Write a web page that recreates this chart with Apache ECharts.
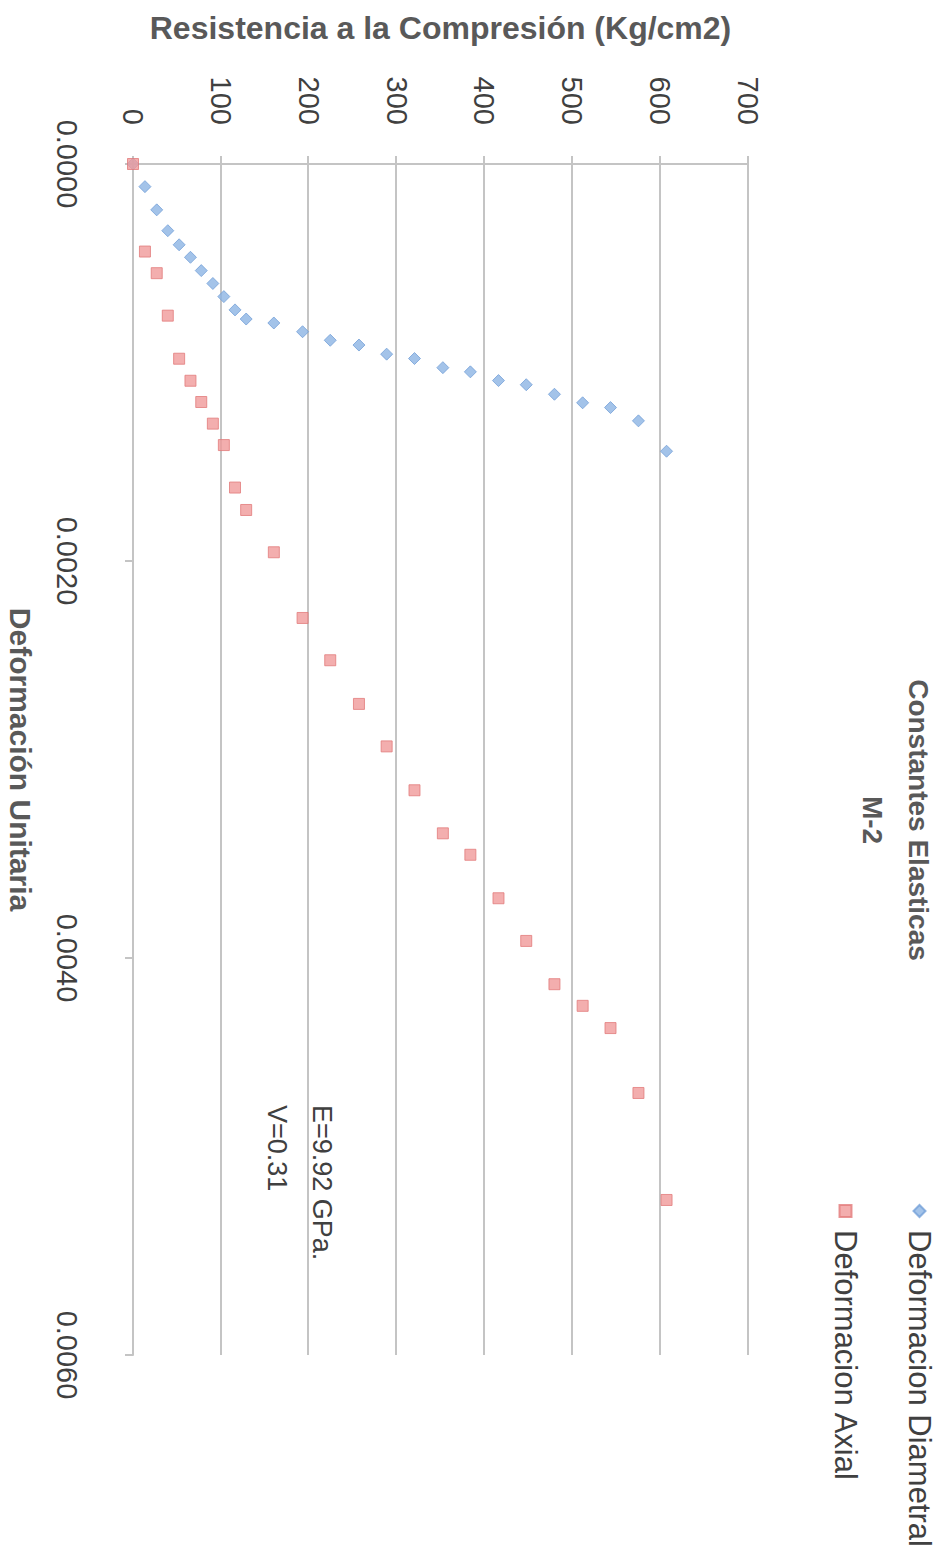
<!DOCTYPE html>
<html>
<head>
<meta charset="utf-8">
<script src="https://cdn.jsdelivr.net/npm/echarts@6/dist/echarts.min.js"></script>
<style>
  html, body { margin: 0; padding: 0; background: #fff; }
  #page { position: absolute; left: 0; top: 0; width: 946px; height: 1558px; overflow: hidden; background: #fff; }
  /* the original sheet was scanned on its side: draw the chart upright, then turn it a quarter clockwise */
  #chart { position: absolute; left: 0; top: 0; width: 1558px; height: 946px;
           transform-origin: 0 0; transform: translate(946px, 0) rotate(90deg); }
</style>
</head>
<body>
<div id="page"><div id="chart"></div></div>
<script>
// esfuerzo aplicado (Kg/cm2), igual para las dos lecturas
const resistencia = [0, 13.6, 27.0, 39.6, 52.5, 65.4, 77.7, 90.9, 103.4, 116.1, 128.8,
  160.3, 193.0, 224.5, 257.2, 288.7, 320.4, 352.7, 384.0, 416.0, 447.6, 479.7,
  511.8, 543.5, 575.3, 607.3];

const defDiametral = [0, 0.000114, 0.000231, 0.000336, 0.000407, 0.000470, 0.000537,
  0.000602, 0.000668, 0.000735, 0.000781, 0.000801, 0.000845, 0.000888, 0.000912,
  0.000958, 0.000980, 0.001026, 0.001047, 0.001091, 0.001112, 0.001160, 0.001203,
  0.001227, 0.001294, 0.001447];

const defAxial = [0, 0.000441, 0.000550, 0.000764, 0.000981, 0.001092, 0.001199,
  0.001308, 0.001416, 0.001630, 0.001743, 0.001956, 0.002287, 0.002500, 0.002720,
  0.002934, 0.003155, 0.003372, 0.003480, 0.003699, 0.003914, 0.004132, 0.004241,
  0.004353, 0.004680, 0.005219];

const seriesNames = ['Deformacion Diametral', 'Deformacion Axial'];
const notas = ['E=9.92 GPa.', 'V=0.31'];

const font = 'Liberation Sans, Arial, sans-serif';
const gris = '#c4c4c4';

const chart = echarts.init(document.getElementById('chart'), null, {renderer: 'svg', width: 1558, height: 946});
chart.setOption({
  backgroundColor: '#fff',
  animation: false,
  title: {
    text: 'Constantes Elasticas\nM-2',
    left: 815,
    top: 0,
    textAlign: 'center',
    textStyle: {
      fontFamily: font,
      fontSize: 28,
      fontWeight: 'bold',
      color: '#595959',
      lineHeight: 46
    }
  },
  legend: {
    orient: 'vertical',
    left: 1199,
    top: 6,
    itemGap: 43,
    itemWidth: 12,
    itemHeight: 12,
    data: seriesNames,
    textStyle: {fontFamily: font, fontSize: 31, color: '#404040', padding: [0, 0, 0, 8]}
  },
  grid: {left: 164, right: 203, top: 198, bottom: 133},
  xAxis: {
    type: 'value',
    min: 0,
    max: 0.006,
    interval: 0.002,
    name: 'Deformación Unitaria',
    nameLocation: 'middle',
    nameGap: 98,
    nameTextStyle: {fontFamily: font, fontSize: 30, fontWeight: 'bold', color: '#595959'},
    axisLine: {show: true, lineStyle: {color: gris, width: 2}},
    axisTick: {show: true, length: 8, lineStyle: {color: gris, width: 2}},
    splitLine: {show: false},
    axisLabel: {
      fontFamily: font,
      fontSize: 29,
      color: '#404040',
      margin: 52,
      formatter: v => v.toFixed(4)
    }
  },
  yAxis: {
    type: 'value',
    min: 0,
    max: 700,
    interval: 100,
    name: 'Resistencia a la Compresión (Kg/cm2)',
    nameLocation: 'middle',
    nameRotate: 90,
    nameGap: 120,
    nameTextStyle: {fontFamily: font, fontSize: 32, fontWeight: 'bold', color: '#595959'},
    axisLine: {show: true, lineStyle: {color: gris, width: 2}},
    axisTick: {show: true, length: 8, lineStyle: {color: gris, width: 2}},
    splitLine: {show: true, lineStyle: {color: gris, width: 2}},
    axisLabel: {fontFamily: font, fontSize: 29, color: '#404040', margin: 39}
  },
  series: [
    {
      name: seriesNames[0],
      type: 'scatter',
      symbol: 'diamond',
      symbolSize: 12,
      itemStyle: {color: '#8cb4e4', borderColor: '#74a0d8', borderWidth: 1},
      data: defDiametral.map((d, i) => [d, resistencia[i]])
    },
    {
      name: seriesNames[1],
      type: 'scatter',
      symbol: 'rect',
      symbolSize: 11,
      itemStyle: {color: '#f09a9a', borderColor: '#e27c7c', borderWidth: 1},
      data: defAxial.map((d, i) => [d, resistencia[i]])
    }
  ],
  graphic: [
    {type: 'text', left: 1105, top: 611, style: {text: notas[0], font: '27px ' + font, fill: '#404040'}},
    {type: 'text', left: 1105, top: 656, style: {text: notas[1], font: '27px ' + font, fill: '#404040'}}
  ]
});
</script>
</body>
</html>
